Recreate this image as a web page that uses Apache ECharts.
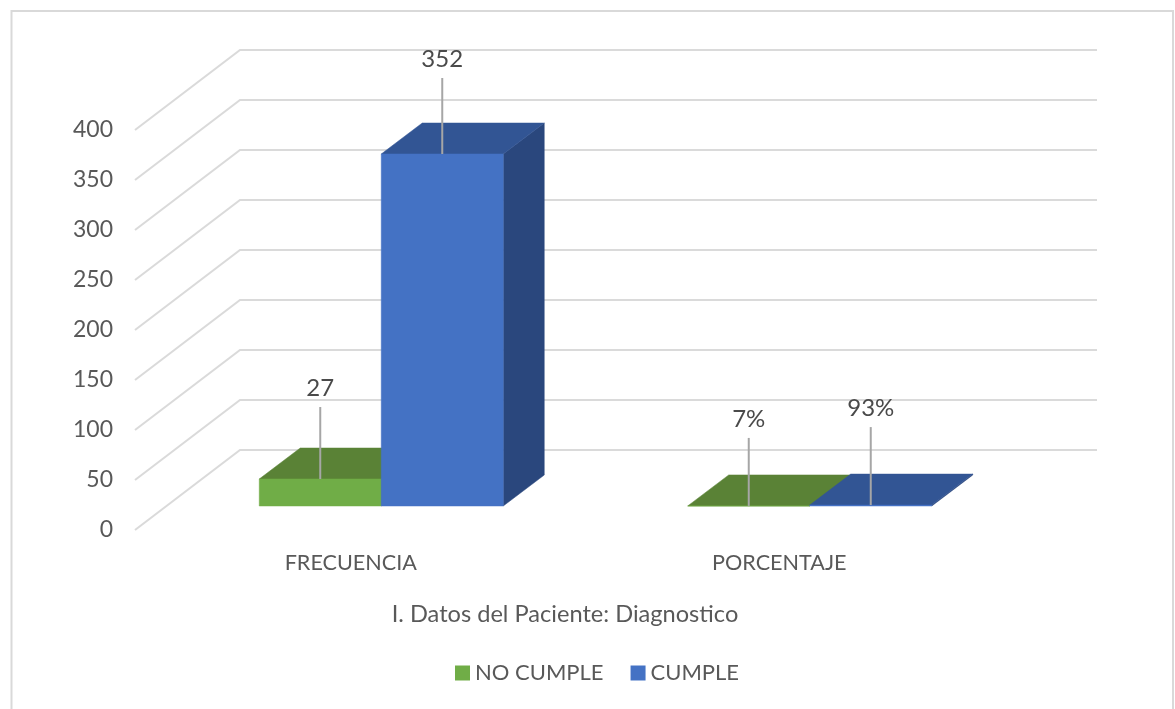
<!DOCTYPE html>
<html>
<head>
<meta charset="utf-8">
<style>
  html, body { margin: 0; padding: 0; background: #fff; }
  #chart { width: 1175px; height: 709px; }
</style>
<script src="https://cdn.jsdelivr.net/npm/echarts@6/dist/echarts.min.js"></script>
</head>
<body>
<div id="chart"></div>
<script>
// Diagnosis compliance, counts and shares
const categories = ['FRECUENCIA', 'PORCENTAJE'];
const yTicks = [0, 50, 100, 150, 200, 250, 300, 350, 400];
const noCumple = [27, 0.07];
const cumple = [352, 0.93];
const noCumpleLabels = ['27', '7%'];
const cumpleLabels = ['352', '93%'];

// Oblique projection of the box: wall offset and the slab the bars stand in
const WALL_DX = 105, WALL_DY = -80;
const BAR_DX = 32, BAR_DY = -24;
const TOP_DX = 41, TOP_DY = -31;
const BAR_W = 122;
const FONT = 'Lato, "Open Sans", sans-serif';
const TEXT = '#595959';

function wallLines(params, api) {
  const cs = params.coordSys;
  const y = api.coord([0, api.value(0)])[1];
  return {
    type: 'polyline',
    shape: { points: [
      [cs.x, y],
      [cs.x + WALL_DX, y + WALL_DY],
      [cs.x + WALL_DX + cs.width, y + WALL_DY]
    ] },
    style: { fill: 'none', stroke: '#DADADA', lineWidth: 2 },
    silent: true
  };
}

function face(points, color) {
  return { type: 'polygon', shape: { points }, style: { fill: color, stroke: color, lineWidth: 0.5 } };
}

// One 3D column per data item; side selects the half of the category band it fills
function barSeries(name, values, labels, side, colors, lifts) {
  return {
    name,
    type: 'custom',
    z: 3,
    itemStyle: { color: colors.front },
    data: values.map((v, i) => [i, v]),
    encode: { x: 0, y: 1 },
    renderItem(params, api) {
      const i = api.value(0);
      const top = api.coord([i, api.value(1)]);
      const base = api.coord([i, 0]);
      const x0 = top[0] + BAR_DX + (side < 0 ? -BAR_W : 0);
      const x1 = x0 + BAR_W;
      const yt = top[1] + BAR_DY;
      const yb = base[1] + BAR_DY;
      const cx = (x0 + x1) / 2;
      const lift = lifts[i];
      return {
        type: 'group',
        children: [
          face([[x1, yt], [x1 + TOP_DX, yt + TOP_DY], [x1 + TOP_DX, yb + TOP_DY], [x1, yb]], colors.side),
          face([[x0, yt], [x0 + TOP_DX, yt + TOP_DY], [x1 + TOP_DX, yt + TOP_DY], [x1, yt]], colors.top),
          face([[x0, yt], [x1, yt], [x1, yb], [x0, yb]], colors.front),
          { type: 'line', z2: 5, shape: { x1: cx, y1: yt, x2: cx, y2: yt - lift },
            style: { stroke: '#A6A6A6', lineWidth: 2 } },
          { type: 'text', z2: 5, style: {
              x: cx, y: yt - lift - 19, text: labels[i], align: 'center', verticalAlign: 'middle',
              font: '24px ' + FONT, fill: '#4a4a4a' } }
        ]
      };
    }
  };
}

const chart = echarts.init(document.getElementById('chart'));
chart.setOption({
  animation: false,
  backgroundColor: '#fff',
  graphic: [{
    type: 'rect',
    silent: true,
    shape: { x: 11.5, y: 11, width: 1161.5, height: 720 },
    style: { fill: 'none', stroke: '#D9D9D9', lineWidth: 2 }
  }],
  grid: { left: 135, top: 130, width: 857, height: 400, containLabel: false },
  xAxis: {
    type: 'category',
    data: categories,
    axisLine: { show: false },
    axisTick: { show: false },
    axisLabel: { color: TEXT, fontFamily: FONT, fontSize: 21.6, margin: 22, padding: [0, 0, 0, 3] },
    name: 'I. Datos del Paciente: Diagnostico',
    nameLocation: 'middle',
    nameGap: 72,
    nameTextStyle: { color: TEXT, fontFamily: FONT, fontSize: 23.6, padding: [0, 0, 0, 3] }
  },
  yAxis: {
    type: 'value',
    min: 0,
    max: 400,
    interval: 50,
    axisLine: { show: false },
    axisTick: { show: false },
    splitLine: { show: false },
    axisLabel: { color: TEXT, fontFamily: FONT, fontSize: 23, margin: 22, padding: [3, 0, 0, 0] }
  },
  legend: {
    left: 450,
    top: 657,
    itemWidth: 15,
    itemHeight: 15,
    itemGap: 27,
    icon: 'rect',
    textStyle: { color: TEXT, fontFamily: FONT, fontSize: 22 },
    data: ['NO CUMPLE', 'CUMPLE']
  },
  series: [
    {
      type: 'custom',
      z: 1,
      silent: true,
      data: yTicks.map(v => [v]),
      encode: { y: 0 },
      renderItem: wallLines
    },
    barSeries('NO CUMPLE', noCumple, noCumpleLabels, -1,
      { front: '#70AD47', top: '#5A8236', side: '#4E7530' }, [72, 68]),
    barSeries('CUMPLE', cumple, cumpleLabels, 1,
      { front: '#4472C4', top: '#325594', side: '#2A477D' }, [76, 78])
  ]
});
</script>
</body>
</html>
